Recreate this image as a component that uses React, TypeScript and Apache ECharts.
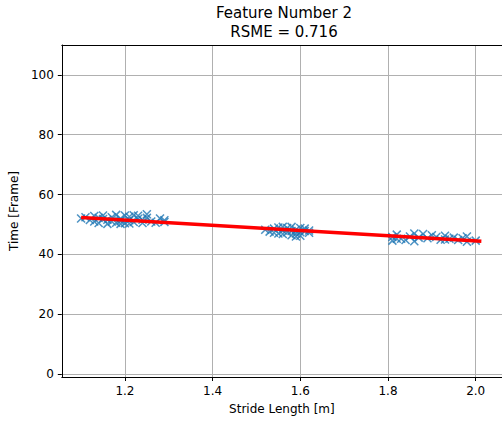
import React, { useEffect, useRef } from "react";
import * as echarts from "echarts";

const titleLines = ["Feature Number 2", "RSME = 0.716"];
const xName = "Stride Length [m]";
const yName = "Time [Frame]";
const xTicks = [1.2, 1.4, 1.6, 1.8, 2.0];
const yTicks = [0, 20, 40, 60, 80, 100];

const cluster1: [number, number][] = [
  [1.10, 52.0], [1.12, 51.5], [1.13, 52.8], [1.14, 50.5], [1.15, 51.8], [1.15, 53.0],
  [1.16, 50.2], [1.17, 52.4], [1.17, 51.0], [1.18, 53.2], [1.18, 50.6], [1.19, 52.0],
  [1.19, 51.2], [1.20, 53.0], [1.20, 50.4], [1.21, 52.6], [1.21, 51.4], [1.22, 50.8],
  [1.22, 53.1], [1.23, 51.9], [1.24, 50.5], [1.25, 52.2], [1.25, 53.4], [1.26, 51.0],
  [1.27, 50.6], [1.28, 52.0], [1.29, 51.4], [1.29, 50.8], [1.13, 51.0], [1.16, 51.6],
  [1.14, 52.2], [1.19, 50.2], [1.21, 50.3], [1.23, 52.9], [1.24, 51.6], [1.11, 52.4],
];
const cluster2: [number, number][] = [
  [1.52, 48.2], [1.53, 47.6], [1.54, 48.6], [1.55, 47.0], [1.55, 49.0], [1.56, 48.0],
  [1.56, 46.8], [1.57, 48.8], [1.57, 47.4], [1.58, 49.2], [1.58, 46.4], [1.59, 48.2],
  [1.59, 47.0], [1.60, 48.8], [1.60, 46.2], [1.61, 47.8], [1.61, 48.6], [1.62, 47.2],
  [1.62, 48.0], [1.58, 47.8], [1.54, 47.2], [1.60, 47.4], [1.56, 49.2], [1.59, 46.0],
];
const cluster3: [number, number][] = [
  [1.81, 44.6], [1.81, 45.8], [1.82, 46.6], [1.83, 45.2], [1.84, 44.8], [1.85, 46.0],
  [1.86, 47.0], [1.86, 44.4], [1.87, 45.6], [1.88, 46.8], [1.89, 45.4], [1.91, 45.8],
  [1.92, 44.9], [1.93, 46.2], [1.94, 45.2], [1.95, 45.6], [1.96, 44.8], [1.97, 45.4],
  [1.98, 46.0], [1.98, 44.2], [2.00, 44.6], [1.93, 45.0], [1.82, 45.2], [1.90, 46.4],
];
const fitLine: [number, number][] = [[1.10, 52.3], [2.013, 44.4]];

const FONT = "DejaVu Sans";

export default function App() {
  const ref = useRef<HTMLDivElement>(null);
  useEffect(() => {
    if (!ref.current) return;
    const chart = echarts.init(ref.current, null, { renderer: "svg" });
    const points = [...cluster1, ...cluster2, ...cluster3];
    chart.setOption({
      animation: false,
      backgroundColor: "#ffffff",
      title: {
        text: titleLines.join("\n"),
        left: 284,
        textAlign: "center",
        top: 3,
        padding: 0,
        textStyle: { fontFamily: FONT, fontSize: 15, fontWeight: "normal", color: "#000", lineHeight: 19 },
      },
      grid: { left: 61, top: 45, right: -6, bottom: 44, containLabel: false },
      xAxis: [
        {
          type: "value",
          min: 1.056,
          max: 2.06,
          name: xName,
          nameLocation: "middle",
          nameGap: 26,
          nameTextStyle: { fontFamily: FONT, fontSize: 12, color: "#000" },
          axisLine: { show: true, onZero: false, lineStyle: { color: "#000", width: 1 } },
          axisTick: { show: true, length: 4, lineStyle: { color: "#000" }, customValues: xTicks },
          axisLabel: {
            fontFamily: FONT, fontSize: 12, color: "#000", margin: 8,
            customValues: xTicks,
            formatter: (v: number) => v.toFixed(1),
          },
          splitLine: { show: true, lineStyle: { color: "#b0b0b0", width: 1 } },
        },
        {
          type: "value",
          position: "top",
          min: 1.056,
          max: 2.06,
          axisLine: { show: true, onZero: false, lineStyle: { color: "#000", width: 1 } },
          axisTick: { show: false },
          axisLabel: { show: false },
          splitLine: { show: false },
        },
      ],
      yAxis: {
        type: "value",
        min: -1,
        max: 110,
        name: yName,
        nameLocation: "middle",
        nameGap: 39,
        nameTextStyle: { fontFamily: FONT, fontSize: 12, color: "#000" },
        axisLine: { show: true, onZero: false, lineStyle: { color: "#000", width: 1 } },
        axisTick: { show: true, length: 4, lineStyle: { color: "#000" }, customValues: yTicks },
        axisLabel: { fontFamily: FONT, fontSize: 12, color: "#000", margin: 8, customValues: yTicks },
        splitLine: { show: true, lineStyle: { color: "#b0b0b0", width: 1 } },
      },
      series: [
        {
          type: "scatter",
          data: points,
          symbol: "path://M0,0L10,10M10,0L0,10",
          symbolSize: 8,
          itemStyle: { color: "rgba(0,0,0,0)", borderColor: "#1f77b4", borderWidth: 1.5 },
          z: 2,
        },
        {
          type: "line",
          data: fitLine,
          symbol: "none",
          lineStyle: { color: "#ff0000", width: 3.5 },
          z: 3,
        },
      ],
    });
    return () => chart.dispose();
  }, []);
  return <div ref={ref} style={{ width: 502, height: 421, position: "absolute", left: 0, top: 0 }} />;
}
